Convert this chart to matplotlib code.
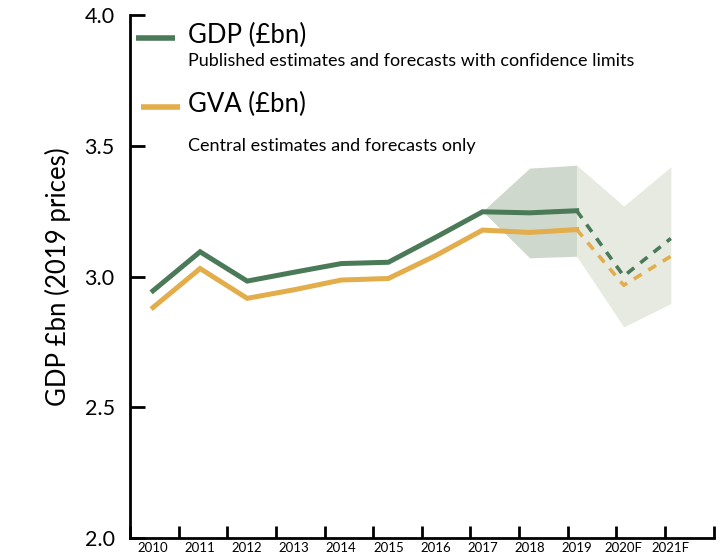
import matplotlib.pyplot as plt
import numpy as np

plt.rcParams['font.family'] = ['Lato', 'DejaVu Sans']

# data
years = ['2010', '2011', '2012', '2013', '2014', '2015', '2016', '2017', '2018', '2019', '2020F', '2021F']
gdp = [2.946, 3.095, 2.983, 3.017, 3.050, 3.055, 3.150, 3.248, 3.244, 3.252, 3.002, 3.146]
gva = [2.882, 3.031, 2.917, 2.950, 2.987, 2.993, 3.080, 3.178, 3.169, 3.180, 2.967, 3.078]

# confidence limits (published 2017-2019, forecast 2019-2021F)
pub_idx = [7, 8, 9]
pub_hi = [3.250, 3.415, 3.426]
pub_lo = [3.250, 3.072, 3.078]
fc_idx = [9, 10, 11]
fc_hi = [3.426, 3.270, 3.420]
fc_lo = [3.078, 2.808, 2.897]

green = '#4a7a58'
orange = '#e2ad4a'

fig = plt.figure(figsize=(7.26, 5.60), dpi=100)
ax = fig.add_axes([0.179, 0.039, 0.804, 0.934])

ax.fill_between(pub_idx, pub_lo, pub_hi, color='#cfd8cc', lw=0)
ax.fill_between(fc_idx, fc_lo, fc_hi, color='#e6eae0', lw=0)

x = np.arange(len(years))
ax.plot(x[:10], gdp[:10], color=green, lw=3.6, solid_joinstyle='miter')
ax.plot(x[:10], gva[:10], color=orange, lw=3.6, solid_joinstyle='miter')
ax.plot(x[9:], gdp[9:], color=green, lw=2.6, dashes=(2.5, 2.2), dash_capstyle='butt')
ax.plot(x[9:], gva[9:], color=orange, lw=2.6, dashes=(2.5, 2.2), dash_capstyle='butt')

xmin, xmax = -0.49, 11.91
ax.set_xlim(xmin, xmax)
ax.set_ylim(2.0, 4.0)

ax.set_yticks([2.0, 2.5, 3.0, 3.5, 4.0])
ax.set_yticklabels(['2.0', '2.5', '3.0', '3.5', '4.0'])
ax.set_xticks(x)
ax.set_xticklabels(years)
ax.set_xticks(np.linspace(xmin, xmax, len(years) + 1), minor=True)

ax.tick_params(axis='y', direction='in', length=11, width=2, labelsize=15.5, pad=11)
ax.tick_params(axis='x', which='major', length=0, labelsize=9.5, pad=3)
ax.tick_params(axis='x', which='minor', direction='in', length=9, width=2)

for s in ['top', 'right']:
    ax.spines[s].set_visible(False)
for s in ['left', 'bottom']:
    ax.spines[s].set_linewidth(2)

ax.set_ylabel('GDP £bn (2019 prices)', fontsize=18.5, labelpad=10)

# legend
ax.plot([0.010, 0.077], [0.956, 0.956], transform=ax.transAxes, color=green, lw=4, solid_capstyle='butt')
ax.text(0.099, 0.962, 'GDP (£bn)', transform=ax.transAxes, fontsize=18.5, va='center')
ax.text(0.099, 0.912, 'Published estimates and forecasts with confidence limits',
        transform=ax.transAxes, fontsize=13, va='center')
ax.plot([0.019, 0.086], [0.824, 0.824], transform=ax.transAxes, color=orange, lw=4, solid_capstyle='butt')
ax.text(0.099, 0.830, 'GVA (£bn)', transform=ax.transAxes, fontsize=18.5, va='center')
ax.text(0.099, 0.750, 'Central estimates and forecasts only',
        transform=ax.transAxes, fontsize=13, va='center')

plt.savefig('out.png', dpi=100)
